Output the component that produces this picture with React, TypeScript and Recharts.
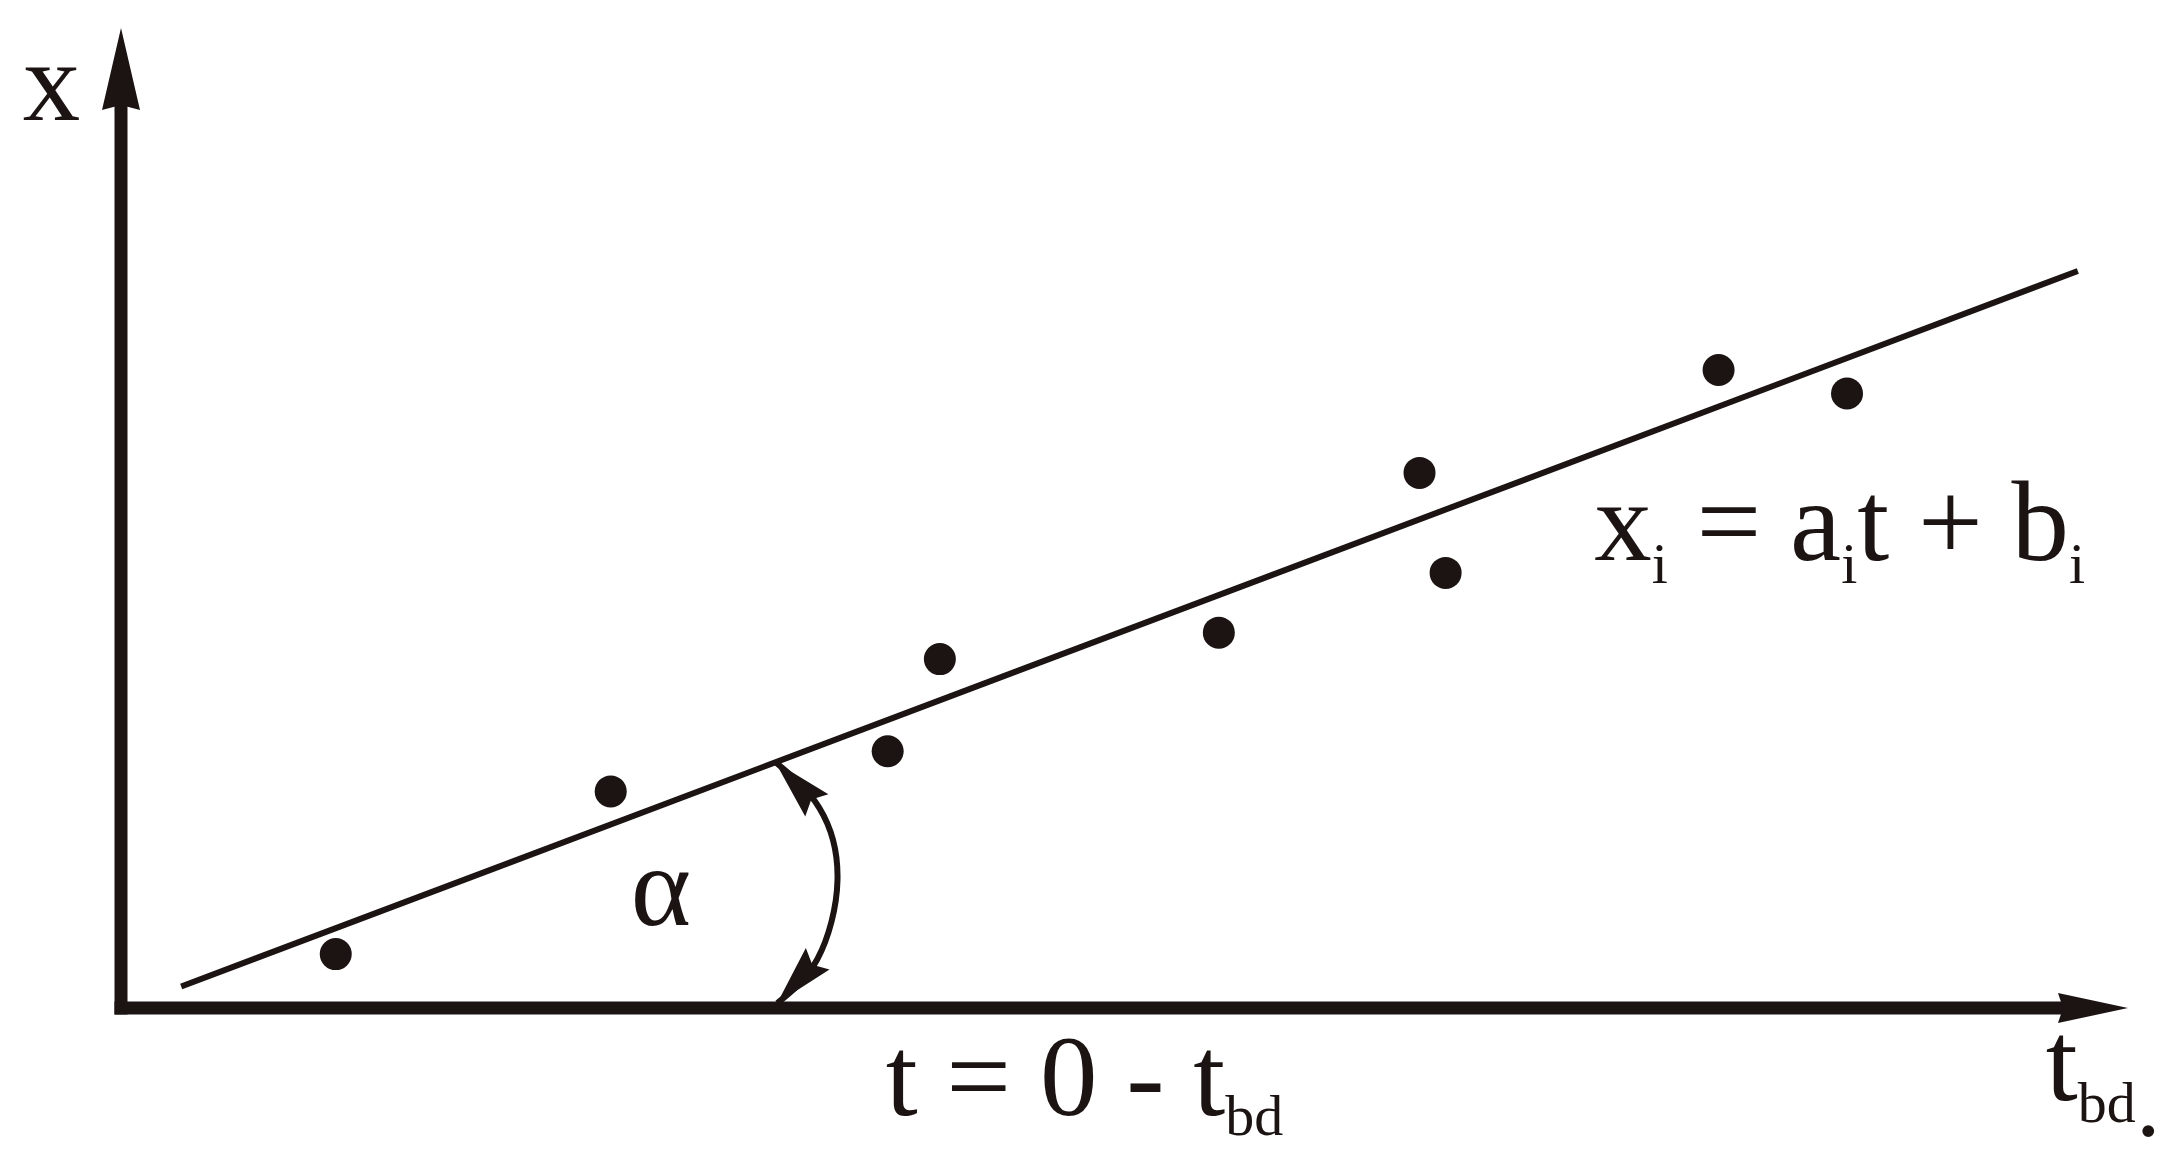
import React from "react";
import {
  ComposedChart,
  XAxis,
  YAxis,
  Line,
  Scatter,
  ReferenceLine,
  ReferenceDot,
} from "recharts";

// measured points (t, x) in arbitrary schematic units
const pointT = [10.7, 24.4, 38.2, 40.8, 54.7, 64.7, 66.0, 79.6, 86.0];
const pointX = [5.5, 22.1, 26.2, 35.6, 38.3, 54.6, 44.4, 65.1, 62.7];

// fitted line x = a t + b, read at both ends
const fitT = [3.0, 97.5];
const fitX = [2.2, 75.2];

const arcT = [32.6, 34.8, 35.7, 34.7, 32.7];
const arcX = [25.1, 20.4, 13.1, 5.0, 0.5];

// label anchors (t, x)
const axisXLabel = { t: -4.9, x: 90.6 };
const alphaLabel = { t: 25.4, x: 8.5 };
const rangeLabel = { t: 38.1, x: -10.9 };
const modelLabel = { t: 73.4, x: 45.7 };
const axisTLabel = { t: 95.9, x: -9.4 };

const points = pointT.map((t, i) => ({ t, x: pointX[i] }));
const fitLine = fitT.map((t, i) => ({ t, x: fitX[i] }));
const arcLine = arcT.map((t, i) => ({ t, x: arcX[i] }));

const INK = "#1b1412";
const FONT = "'Liberation Serif', 'Times New Roman', serif";
const BIG = 115;
const SMALL = 58;

function head(
  tx: number,
  ty: number,
  fx: number,
  fy: number,
  len: number,
  half: number,
  notch: number
) {
  const dx = tx - fx;
  const dy = ty - fy;
  const L = Math.hypot(dx, dy) || 1;
  const ux = dx / L;
  const uy = dy / L;
  const nx = -uy;
  const ny = ux;
  const bx = tx - ux * len;
  const by = ty - uy * len;
  const ex = tx - ux * (len - notch);
  const ey = ty - uy * (len - notch);
  return {
    ex,
    ey,
    pts: `${tx},${ty} ${bx + nx * half},${by + ny * half} ${ex},${ey} ${bx - nx * half},${by - ny * half}`,
  };
}

function arrowAxis(len: number, half: number, notch: number) {
  return (p: any) => {
    const { x1, y1, x2, y2 } = p;
    const h = head(x2, y2, x1, y1, len, half, notch);
    return (
      <g>
        <line
          x1={x1}
          y1={y1}
          x2={h.ex}
          y2={h.ey}
          stroke={INK}
          strokeWidth={13}
          strokeLinecap="square"
        />
        <polygon points={h.pts} fill={INK} />
      </g>
    );
  };
}

// arrowheads at both ends of the alpha bracket
const arcDot = (p: any) => {
  const pts = p.points;
  const i = p.index;
  if (!pts || (i !== 0 && i !== pts.length - 1)) return <g key={`ad-${i}`} />;
  const nb = i === 0 ? pts[1] : pts[pts.length - 2];
  const h = head(p.cx, p.cy, nb.x, nb.y, 60, 16, 8);
  return <polygon key={`ad-${i}`} points={h.pts} fill={INK} />;
};

const textAt = (content: React.ReactNode) => (p: any) => (
  <text x={p.cx} y={p.cy} fontFamily={FONT} fontSize={BIG} fill={INK}>
    {content}
  </text>
);

export default function App() {
  return (
    <div style={{ position: "absolute", left: 0, top: 0, background: "#fff" }}>
      <ComposedChart
        width={2181}
        height={1164}
        margin={{ top: 28, right: 53, bottom: 156, left: 121 }}
      >
        <XAxis type="number" dataKey="t" domain={[0, 100]} hide />
        <YAxis type="number" dataKey="x" domain={[0, 100]} hide width={0} />

        <ReferenceLine
          segment={[{ x: 0, y: 0 }, { x: 100, y: 0 }]}
          ifOverflow="visible"
          shape={arrowAxis(70, 15, 5)}
        />
        <ReferenceLine
          segment={[{ x: 0, y: 0 }, { x: 0, y: 100 }]}
          ifOverflow="visible"
          shape={arrowAxis(82, 19, 5)}
        />

        <Line
          data={fitLine}
          dataKey="x"
          type="linear"
          stroke={INK}
          strokeWidth={6}
          dot={false}
          activeDot={false}
          isAnimationActive={false}
        />
        <Line
          data={arcLine}
          dataKey="x"
          type="natural"
          stroke={INK}
          strokeWidth={6}
          dot={arcDot}
          activeDot={false}
          isAnimationActive={false}
        />
        <Scatter
          data={points}
          dataKey="x"
          fill={INK}
          isAnimationActive={false}
          shape={(p: any) => <circle cx={p.cx} cy={p.cy} r={16} fill={INK} />}
        />

        <ReferenceDot
          x={axisXLabel.t}
          y={axisXLabel.x}
          ifOverflow="visible"
          shape={textAt("x")}
        />
        <ReferenceDot
          x={alphaLabel.t}
          y={alphaLabel.x}
          ifOverflow="visible"
          shape={textAt("\u03B1")}
        />
        <ReferenceDot
          x={rangeLabel.t}
          y={rangeLabel.x}
          ifOverflow="visible"
          shape={textAt(
            <>
              <tspan>{"t\u00A0=\u00A00\u00A0-\u00A0t"}</tspan>
              <tspan fontSize={SMALL} dy={20}>
                bd
              </tspan>
            </>
          )}
        />
        <ReferenceDot
          x={modelLabel.t}
          y={modelLabel.x}
          ifOverflow="visible"
          shape={textAt(
            <>
              <tspan>x</tspan>
              <tspan fontSize={SMALL} dy={23}>
                i
              </tspan>
              <tspan fontSize={BIG} dy={-23}>
                {"\u00A0=\u00A0a"}
              </tspan>
              <tspan fontSize={SMALL} dy={23}>
                i
              </tspan>
              <tspan fontSize={BIG} dy={-23}>
                {"t\u00A0+\u00A0b"}
              </tspan>
              <tspan fontSize={SMALL} dy={23}>
                i
              </tspan>
            </>
          )}
        />
        <ReferenceDot
          x={axisTLabel.t}
          y={axisTLabel.x}
          ifOverflow="visible"
          shape={textAt(
            <>
              <tspan>t</tspan>
              <tspan fontSize={SMALL} dy={22}>
                bd
              </tspan>
              <tspan fontSize={100} dy={14}>
                .
              </tspan>
            </>
          )}
        />
      </ComposedChart>
    </div>
  );
}
